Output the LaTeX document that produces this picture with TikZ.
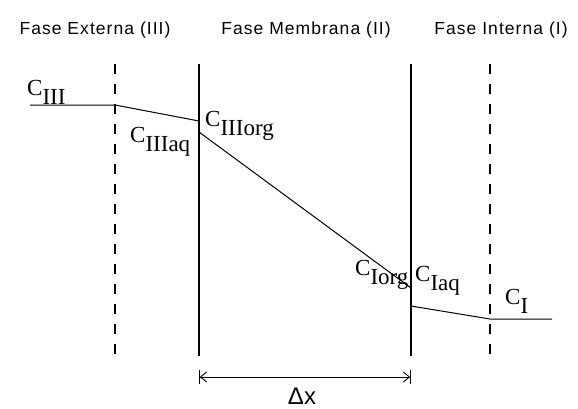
\documentclass[tikz,border=0pt]{standalone}
\usepackage{fontspec}
\setmainfont{Liberation Serif}
\newfontfamily\titlefont{Liberation Sans}[LetterSpace=6]
\newfontfamily\deltafont{Liberation Sans}
\usetikzlibrary{arrows.meta}

\newcommand{\conc}[1]{C\raisebox{-9pt}{#1}}

\begin{document}
\begin{tikzpicture}[x=1pt, y=-1pt, >=Stealth,
    fase/.style={font=\titlefont\fontsize{17.5}{20}\selectfont, inner sep=0pt, anchor=base},
    lbl/.style={font=\fontsize{23}{26}\selectfont, inner sep=0pt, anchor=base west},
    parede/.style={line width=1.1pt},
    borda/.style={line width=1.1pt, dash pattern=on 10pt off 10pt},
    perfil/.style={line width=1pt}]
    \useasboundingbox (0,0) rectangle (578,408);
    % Phase titles
    \node[fase] (ext) at (95,34) {Fase Externa (III)};
    \node[fase] (mem) at (306,34) {Fase Membrana (II)};
    \node[fase] (int) at (501,34) {Fase Interna (I)};
    % Boundary layers and membrane walls
    \coordinate (b1t) at (115,64);  \coordinate (b1b) at (115,356);
    \coordinate (m1t) at (199,64);  \coordinate (m1b) at (199,356);
    \coordinate (m2t) at (411,64);  \coordinate (m2b) at (411,356);
    \coordinate (b2t) at (490,64);  \coordinate (b2b) at (490,356);
    \draw[borda] (b1t) -- (b1b);
    \draw[parede] (m1t) -- (m1b);
    \draw[parede] (m2t) -- (m2b);
    \draw[borda] (b2t) -- (b2b);
    % Concentration profile
    \coordinate (p0) at (30,105);
    \coordinate (p1) at (115,105);
    \coordinate (p2) at (199,121);
    \coordinate (p3) at (199,132);
    \coordinate (p4) at (411,288);
    \coordinate (p5) at (411,306);
    \coordinate (p6) at (490,319);
    \coordinate (p7) at (552,319);
    \draw[perfil] (p0) -- (p1) -- (p2);
    \draw[perfil] (p3) -- (p4);
    \draw[perfil] (p5) -- (p6) -- (p7);
    % Labels
    \node[lbl] (cIII) at (27,95) {\conc{III}};
    \node[lbl] (cIIIaq) at (130,142) {\conc{IIIaq}};
    \node[lbl] (cIIIorg) at (205,126) {\conc{IIIorg}};
    \node[lbl] (cIorg) at (355,275) {\conc{Iorg}};
    \node[lbl] (cIaq) at (415,281) {\conc{Iaq}};
    \node[lbl] (cI) at (505,304) {\conc{I}};
    % Membrane thickness
    \coordinate (dxa) at (199,377);
    \coordinate (dxb) at (411,377);
    \draw[line width=0.9pt, {Bar[width=14pt]Straight Barb[length=6pt,width=10pt]}-{Straight Barb[length=6pt,width=10pt]Bar[width=14pt]}] (dxa) -- (dxb);
    \node[font=\deltafont\fontsize{24}{26}\selectfont, inner sep=0pt] (dx) at (302,396) {Δx};
\end{tikzpicture}
\end{document}
